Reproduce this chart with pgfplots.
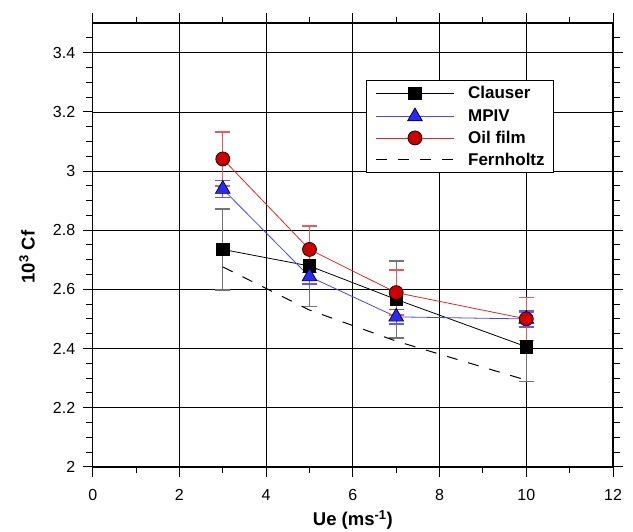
\documentclass[border=0pt]{standalone}
\usepackage{pgfplots}
\pgfplotsset{compat=1.18}
\usepackage{fontspec}
\setmainfont{Liberation Sans}
\definecolor{mred}{RGB}{204,0,0}
\definecolor{lred}{RGB}{220,40,40}
\definecolor{ebred}{RGB}{232,90,90}
\definecolor{mblue}{RGB}{40,40,255}
\definecolor{lblue}{RGB}{70,70,255}
\definecolor{ebblue}{RGB}{90,90,255}
\begin{document}
\begin{tikzpicture}
\begin{axis}[
  at={(0,0)}, anchor=south west,
  scale only axis, width=520.3bp, height=443.6bp,
  xmin=0, xmax=12, ymin=2, ymax=3.5,
  xtick={0,2,4,6,8,10,12},
  minor xtick={1,3,5,7,9,11},
  ytick={2,2.2,2.4,2.6,2.8,3,3.2,3.4},
  minor ytick={2.05,2.1,2.15,2.25,2.3,2.35,2.45,2.5,2.55,2.65,2.7,2.75,2.85,2.9,2.95,3.05,3.1,3.15,3.25,3.3,3.35,3.45},
  tick align=outside, tick pos=both,
  major tick length=10bp, minor tick length=6.5bp,
  every tick/.style={black, line width=1bp},
  axis line style={line width=1.5bp, black},
  grid=major,
  major grid style={black, line width=0.8bp},
  /pgf/number format/assume math mode=true,
  tick label style={font=\fontsize{16bp}{19bp}\selectfont},
  yticklabel style={xshift=-4bp},
  xticklabel style={yshift=-9bp},
  xlabel={\textbf{Ue (ms\textsuperscript{-1})}},
  ylabel={\textbf{10\textsuperscript{3} Cf}},
  label style={font=\fontsize{18.5bp}{22bp}\selectfont\bfseries},
  xlabel style={at={(axis description cs:0.5,-0.1195)}, anchor=center},
  ylabel style={at={(axis description cs:-0.1263,0.473)}, anchor=center},
  legend cell align=left,
  legend image code/.code={
    \draw[mark repeat=2,mark phase=2,#1] plot coordinates {(0bp,0bp) (39bp,0bp) (78bp,0bp)};
  },
  legend style={at={(0.5247,0.872)}, anchor=north west, draw=black, line width=0.9bp,
    font=\fontsize{17bp}{20bp}\selectfont\bfseries,
    inner xsep=9.3bp, inner ysep=6bp, row sep=7.8bp, column sep=13.7bp,
    nodes={inner sep=0pt}},
]
\addplot[black, line width=0.8bp, mark=square*, mark size=6.2bp,
  mark options={solid, fill=black, draw=black},
  error bars/.cd, y dir=both, y explicit,
  error bar style={line width=1.4bp, black!55},
  error mark options={line width=1.4bp, black!55, mark size=7.5bp, rotate=90}]
  coordinates {(3,2.735) +- (0,0.137) (5,2.679) +- (0,0.136) (7,2.566) +- (0,0.13) (10,2.406) +- (0,0.118)};
\addlegendentry{Clauser}
\addplot[lblue, line width=0.8bp, mark=triangle*, mark size=8.5bp,
  mark options={solid, fill=mblue, draw=black, line width=0.7bp},
  error bars/.cd, y dir=both, y explicit,
  error bar style={line width=1.2bp, ebblue},
  error mark options={line width=1.2bp, ebblue, mark size=7.5bp, rotate=90}]
  coordinates {(3,2.939) +- (0,0.028) (5,2.643) +- (0,0.025) (7,2.507) +- (0,0.024) (10,2.50) +- (0,0.027)};
\addlegendentry{MPIV}
\addplot[lred, line width=0.8bp, mark=*, mark size=7bp,
  mark options={solid, fill=mred, draw=black, line width=0.7bp},
  error bars/.cd, y dir=both, y explicit,
  error bar style={line width=1.3bp, ebred},
  error mark options={line width=1.3bp, ebred, mark size=7.5bp, rotate=90}]
  coordinates {(3,3.041) +- (0,0.091) (5,2.735) +- (0,0.079) (7,2.589) +- (0,0.076) (10,2.500) +- (0,0.073)};
\addlegendentry{Oil film}
\addplot[black, line width=1bp, dash pattern=on 11bp off 11bp]
  coordinates {(3,2.676) (5,2.530) (7,2.425) (10,2.293)};
\addlegendentry{Fernholtz}
\end{axis}
\pgfresetboundingbox
\path[use as bounding box] (-92.7bp,-65.2bp) rectangle (540.3bp,466.8bp);
\end{tikzpicture}
\end{document}
